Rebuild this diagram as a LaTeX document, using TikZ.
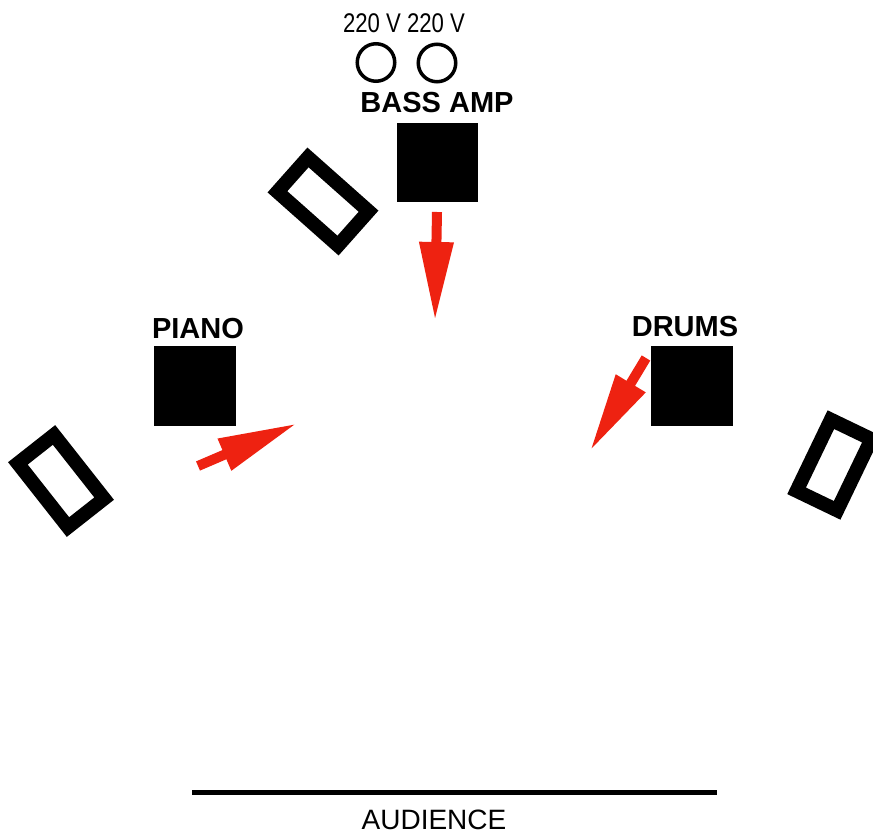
\documentclass[tikz,border=0pt]{standalone}
\usepackage{fontspec}
\setmainfont{Liberation Sans}
\usetikzlibrary{arrows.meta}
\definecolor{arrowred}{RGB}{238,34,17}
\begin{document}
\begin{tikzpicture}[x=1pt,y=-1pt,
  lbl/.style={font=\fontsize{29}{29}\selectfont\bfseries, inner sep=0pt},
  volt/.style={font=\fontsize{27}{27}\selectfont, inner sep=0pt, xscale=0.82},
  box/.style={fill=black, minimum width=82pt, minimum height=80pt, inner sep=0pt},
  monitor/.style={draw=black, line width=14pt, minimum width=81pt, minimum height=46pt, inner sep=0pt},
  outlet/.style={circle, draw=black, line width=3.5pt, minimum size=37.5pt, inner sep=0pt},
  cue/.style={draw=arrowred, line width=10pt, -{Triangle[length=79pt,width=32pt,fill=arrowred]}}]
\useasboundingbox (0,0) rectangle (873,834);
% power outlets
\node[volt] (v1) at (372,23) {220 V};
\node[volt] (v2) at (436,23) {220 V};
\node[outlet] (o1) at (376,62.5) {};
\node[outlet] (o2) at (437,63) {};
% bass amp
\node[lbl] (bassl) at (437,103) {BASS AMP};
\node[box, minimum width=81pt, minimum height=79pt] (bass) at (437.5,162.5) {};
% piano
\node[lbl] (pianol) at (198,329) {PIANO};
\node[box] (piano) at (195,386) {};
% drums
\node[lbl] (drumsl) at (685,327) {DRUMS};
\node[box] (drums) at (692,386) {};
% monitors
\node[monitor, rotate=-41.6] (m1) at (323,201.5) {};
\node[monitor, rotate=-51.8] (m2) at (61,481) {};
\node[monitor, rotate=64.3, minimum width=79pt, minimum height=45pt] (m3) at (834,465) {};
% cue arrows
\coordinate (bt) at (437,212);
\coordinate (bh) at (435,321);
\coordinate (pt) at (198,466);
\coordinate (ph) at (297,423.5);
\coordinate (dt) at (646,358);
\coordinate (dh) at (590,451);
\draw[cue] (bt) -- (bh);
\draw[cue] (pt) -- (ph);
\draw[cue] (dt) -- (dh);
% audience
\coordinate (al) at (192,792.5);
\coordinate (ar) at (717,792.5);
\draw[line width=5pt] (al) -- (ar);
\node[font=\fontsize{28}{28}\selectfont, inner sep=0pt] (aud) at (434,820) {AUDIENCE};
\end{tikzpicture}
\end{document}
